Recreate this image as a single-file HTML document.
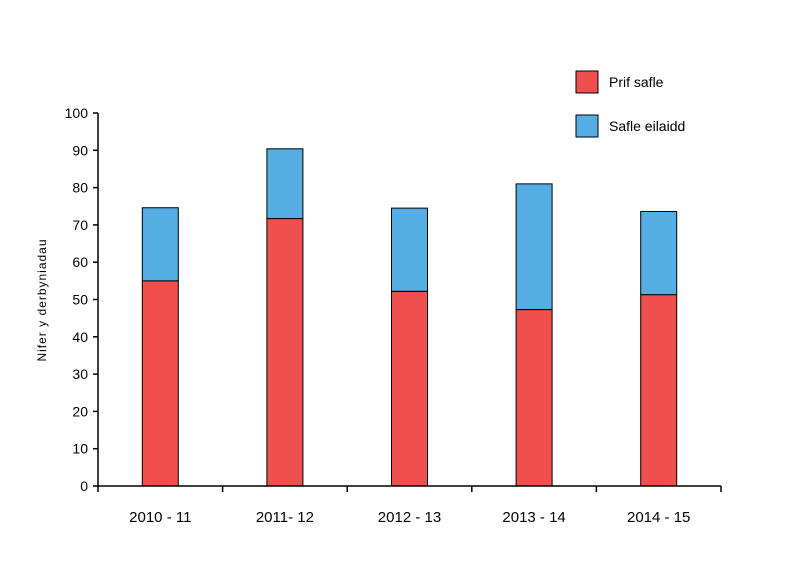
<!DOCTYPE html>
<html><head><meta charset="utf-8"><style>body{margin:0;background:#fff}svg{display:block;font-family:"Liberation Sans",sans-serif}</style></head>
<body>
<svg id="c" width="800" height="571"></svg>
<script>
const categories=["2010 - 11","2011- 12","2012 - 13","2013 - 14","2014 - 15"];
const primary=[55,71.7,52.2,47.3,51.3];
const secondary=[19.6,18.7,22.3,33.7,22.3];
const yTicks=[0,10,20,30,40,50,60,70,80,90,100];
const svg=document.getElementById('c');const NS='http://www.w3.org/2000/svg';
const x0=98,x1=721,y0=486,yTop=113;
const y=v=>y0-(y0-yTop)*v/100;
const bw=(x1-x0)/categories.length;
const xc=i=>x0+bw*(i+0.5);
function mk(t,a,txt){const e=document.createElementNS(NS,t);for(const k in a)e.setAttribute(k,a[k]);if(txt!=null)e.textContent=txt;svg.appendChild(e);return e;}
categories.forEach((c,i)=>{
 let r=mk('rect',{x:xc(i)-18,y:y(primary[i]),width:36,height:y0-y(primary[i]),fill:'#f0504d',stroke:'#000','stroke-width':1});
 
 
 let s=mk('rect',{x:xc(i)-18,y:y(primary[i]+secondary[i]),width:36,height:y(primary[i])-y(primary[i]+secondary[i]),fill:'#55ade3',stroke:'#000','stroke-width':1});
 
 
 let t=mk('text',{x:xc(i),y:522,'text-anchor':'middle','font-size':15},c);
 
 
});
for(let i=0;i<=categories.length;i++){let l=mk('line',{x1:x0+bw*i,x2:x0+bw*i,y1:y0,y2:y0+6,stroke:'#000','stroke-width':1.5});
 
 }
yTicks.forEach(v=>{let l=mk('line',{x1:x0-5,x2:x0,y1:y(v),y2:y(v),stroke:'#000','stroke-width':1.5});
 
 
 let t=mk('text',{x:x0-10,y:y(v)+5,'text-anchor':'end','font-size':14},v);
 
 });
let ax=mk('line',{x1:x0,x2:x0,y1:yTop,y2:y0,stroke:'#000','stroke-width':1.5});


let axx=mk('line',{x1:x0,x2:x1,y1:y0,y2:y0,stroke:'#000','stroke-width':1.5});


let yt=mk('text',{x:46,y:300,'text-anchor':'middle','font-size':12,'letter-spacing':1,transform:'rotate(-90 46 300)'},'Nifer y derbyniadau');


[['Prif safle','#f0504d',71],['Safle eilaidd','#55ade3',115]].forEach((d,i)=>{
 let r=mk('rect',{x:576,y:d[2],width:22,height:22,fill:d[1],stroke:'#000','stroke-width':1});
 
 
 let t=mk('text',{x:609,y:d[2]+16,'font-size':14},d[0]);
 
 
});
</script>
</body></html>
